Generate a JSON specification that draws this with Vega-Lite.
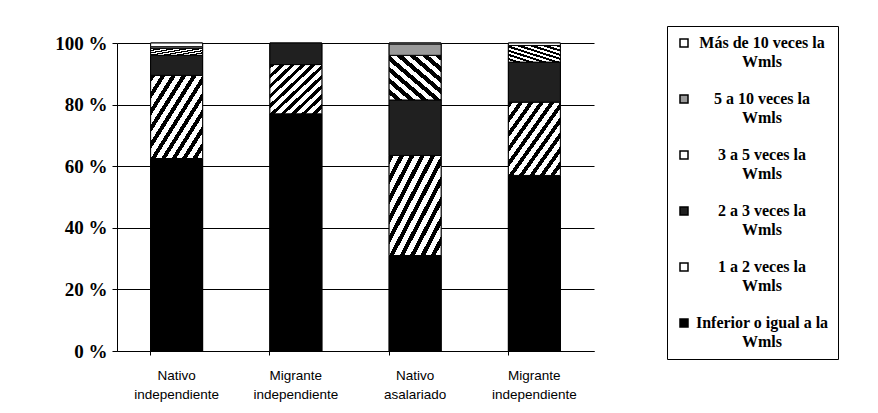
{
  "$schema": "https://vega.github.io/schema/vega-lite/v6.json",
  "autosize": "none",
  "width": 477,
  "height": 308,
  "padding": {"left": 117, "top": 43, "right": 284, "bottom": 62},
  "background": "white",
  "data": {
    "values": [
      {"grupo": "Nativo independiente", "nivel": "Inferior o igual a la Wmls", "orden": 1, "pct": 62.5},
      {"grupo": "Nativo independiente", "nivel": "1 a 2 veces la Wmls", "orden": 2, "pct": 27},
      {"grupo": "Nativo independiente", "nivel": "2 a 3 veces la Wmls", "orden": 3, "pct": 6.5},
      {"grupo": "Nativo independiente", "nivel": "3 a 5 veces la Wmls", "orden": 4, "pct": 2.3},
      {"grupo": "Nativo independiente", "nivel": "5 a 10 veces la Wmls", "orden": 5, "pct": 0.5},
      {"grupo": "Nativo independiente", "nivel": "Más de 10 veces la Wmls", "orden": 6, "pct": 1.2},
      {"grupo": "Migrante independiente", "nivel": "Inferior o igual a la Wmls", "orden": 1, "pct": 77},
      {"grupo": "Migrante independiente", "nivel": "1 a 2 veces la Wmls", "orden": 2, "pct": 16},
      {"grupo": "Migrante independiente", "nivel": "2 a 3 veces la Wmls", "orden": 3, "pct": 7},
      {"grupo": "Nativo asalariado", "nivel": "Inferior o igual a la Wmls", "orden": 1, "pct": 31},
      {"grupo": "Nativo asalariado", "nivel": "1 a 2 veces la Wmls", "orden": 2, "pct": 32.5},
      {"grupo": "Nativo asalariado", "nivel": "2 a 3 veces la Wmls", "orden": 3, "pct": 18},
      {"grupo": "Nativo asalariado", "nivel": "3 a 5 veces la Wmls", "orden": 4, "pct": 14.5},
      {"grupo": "Nativo asalariado", "nivel": "5 a 10 veces la Wmls", "orden": 5, "pct": 3.7},
      {"grupo": "Nativo asalariado", "nivel": "Más de 10 veces la Wmls", "orden": 6, "pct": 0.3},
      {"grupo": "Migrante independiente ", "nivel": "Inferior o igual a la Wmls", "orden": 1, "pct": 57},
      {"grupo": "Migrante independiente ", "nivel": "1 a 2 veces la Wmls", "orden": 2, "pct": 23.8},
      {"grupo": "Migrante independiente ", "nivel": "2 a 3 veces la Wmls", "orden": 3, "pct": 13},
      {"grupo": "Migrante independiente ", "nivel": "3 a 5 veces la Wmls", "orden": 4, "pct": 5.4},
      {"grupo": "Migrante independiente ", "nivel": "Más de 10 veces la Wmls", "orden": 6, "pct": 0.8}
    ]
  },
  "encoding": {
    "x": {
      "field": "grupo",
      "type": "nominal",
      "sort": ["Nativo independiente", "Migrante independiente", "Nativo asalariado", "Migrante independiente "],
      "scale": {"paddingInner": 0.564, "paddingOuter": 0.282},
      "axis": {
        "title": null,
        "labelAngle": 0,
        "labelExpr": "split(trim(datum.label), ' ')",
        "labelFont": "Liberation Sans",
        "labelFontSize": 13.5,
        "labelColor": "black",
        "labelPadding": 13,
        "labelBaseline": "top",
        "bandPosition": 0,
        "tickSize": 4,
        "tickColor": "black",
        "domainColor": "black",
        "grid": false
      }
    },
    "y": {
      "field": "pct",
      "type": "quantitative",
      "stack": "zero",
      "scale": {"domain": [0, 100], "nice": false},
      "axis": {
        "title": null,
        "values": [0, 20, 40, 60, 80, 100],
        "labelExpr": "datum.value + ' %'",
        "labelFont": "Liberation Serif",
        "labelFontWeight": "bold",
        "labelFontSize": 19,
        "labelColor": "black",
        "labelPadding": 5,
        "tickSize": 5,
        "tickColor": "black",
        "domainColor": "black",
        "grid": true,
        "gridColor": "black",
        "gridOpacity": 1
      }
    },
    "order": {"field": "orden", "type": "quantitative", "sort": "ascending"}
  },
  "layer": [
    {
      "mark": {"type": "bar", "stroke": "black", "strokeWidth": 1},
      "encoding": {
        "color": {
          "field": "nivel",
          "type": "nominal",
          "scale": {
            "domain": ["Inferior o igual a la Wmls", "1 a 2 veces la Wmls", "2 a 3 veces la Wmls", "3 a 5 veces la Wmls", "5 a 10 veces la Wmls", "Más de 10 veces la Wmls"],
            "range": ["#000000", "#ffffff", "#202020", "#ffffff", "#9a9a9a", "#ffffff"]
          },
          "legend": {
            "title": null,
            "orient": "none",
            "legendX": 550,
            "legendY": -17,
            "direction": "vertical",
            "values": ["Más de 10 veces la Wmls", "5 a 10 veces la Wmls", "3 a 5 veces la Wmls", "2 a 3 veces la Wmls", "1 a 2 veces la Wmls", "Inferior o igual a la Wmls"],
            "strokeColor": "black",
            "padding": 9,
            "symbolType": "square",
            "symbolSize": 64,
            "symbolStrokeColor": "black",
            "symbolStrokeWidth": 1.5,
            "symbolOpacity": 1,
            "labelExpr": "[replace(datum.label, ' Wmls', ''), 'Wmls']",
            "labelFont": "Liberation Serif",
            "labelFontWeight": "bold",
            "labelFontSize": 16,
            "labelColor": "black",
            "labelLimit": 0,
            "labelAlign": "center",
            "labelOffset": 70,
            "labelBaseline": "middle",
            "rowPadding": 21
          }
        }
      }
    },
    {
      "mark": {"type": "bar", "stroke": "black", "strokeWidth": 1},
      "encoding": {
        "detail": {"field": "nivel"},
        "fill": {
          "condition": [
            {"test": "datum.orden === 2", "value": {"gradient": "linear", "x1": 0, "y1": 0, "x2": 1, "y2": 1, "stops": [
              {"offset": 0, "color": "black"}, {"offset": 0.045, "color": "black"}, {"offset": 0.045, "color": "white"}, {"offset": 0.1, "color": "white"},
              {"offset": 0.1, "color": "black"}, {"offset": 0.145, "color": "black"}, {"offset": 0.145, "color": "white"}, {"offset": 0.2, "color": "white"},
              {"offset": 0.2, "color": "black"}, {"offset": 0.245, "color": "black"}, {"offset": 0.245, "color": "white"}, {"offset": 0.3, "color": "white"},
              {"offset": 0.3, "color": "black"}, {"offset": 0.345, "color": "black"}, {"offset": 0.345, "color": "white"}, {"offset": 0.4, "color": "white"},
              {"offset": 0.4, "color": "black"}, {"offset": 0.445, "color": "black"}, {"offset": 0.445, "color": "white"}, {"offset": 0.5, "color": "white"},
              {"offset": 0.5, "color": "black"}, {"offset": 0.545, "color": "black"}, {"offset": 0.545, "color": "white"}, {"offset": 0.6, "color": "white"},
              {"offset": 0.6, "color": "black"}, {"offset": 0.645, "color": "black"}, {"offset": 0.645, "color": "white"}, {"offset": 0.7, "color": "white"},
              {"offset": 0.7, "color": "black"}, {"offset": 0.745, "color": "black"}, {"offset": 0.745, "color": "white"}, {"offset": 0.8, "color": "white"},
              {"offset": 0.8, "color": "black"}, {"offset": 0.845, "color": "black"}, {"offset": 0.845, "color": "white"}, {"offset": 0.9, "color": "white"},
              {"offset": 0.9, "color": "black"}, {"offset": 0.945, "color": "black"}, {"offset": 0.945, "color": "white"}, {"offset": 1, "color": "white"}
            ]}},
            {"test": "datum.orden === 4", "value": {"gradient": "linear", "x1": 1, "y1": 0, "x2": 0, "y2": 1, "stops": [
              {"offset": 0, "color": "black"}, {"offset": 0.0625, "color": "black"}, {"offset": 0.0625, "color": "white"}, {"offset": 0.125, "color": "white"},
              {"offset": 0.125, "color": "black"}, {"offset": 0.1875, "color": "black"}, {"offset": 0.1875, "color": "white"}, {"offset": 0.25, "color": "white"},
              {"offset": 0.25, "color": "black"}, {"offset": 0.3125, "color": "black"}, {"offset": 0.3125, "color": "white"}, {"offset": 0.375, "color": "white"},
              {"offset": 0.375, "color": "black"}, {"offset": 0.4375, "color": "black"}, {"offset": 0.4375, "color": "white"}, {"offset": 0.5, "color": "white"},
              {"offset": 0.5, "color": "black"}, {"offset": 0.5625, "color": "black"}, {"offset": 0.5625, "color": "white"}, {"offset": 0.625, "color": "white"},
              {"offset": 0.625, "color": "black"}, {"offset": 0.6875, "color": "black"}, {"offset": 0.6875, "color": "white"}, {"offset": 0.75, "color": "white"},
              {"offset": 0.75, "color": "black"}, {"offset": 0.8125, "color": "black"}, {"offset": 0.8125, "color": "white"}, {"offset": 0.875, "color": "white"},
              {"offset": 0.875, "color": "black"}, {"offset": 0.9375, "color": "black"}, {"offset": 0.9375, "color": "white"}, {"offset": 1, "color": "white"}
            ]}},
            {"test": "datum.orden === 3", "value": "#202020"},
            {"test": "datum.orden === 5", "value": "#9a9a9a"},
            {"test": "datum.orden === 6", "value": "#ffffff"}
          ],
          "value": "#000000"
        }
      }
    }
  ],
  "config": {
    "view": {"stroke": null},
    "style": {"guide-label": {"lineHeight": 19}}
  }
}
